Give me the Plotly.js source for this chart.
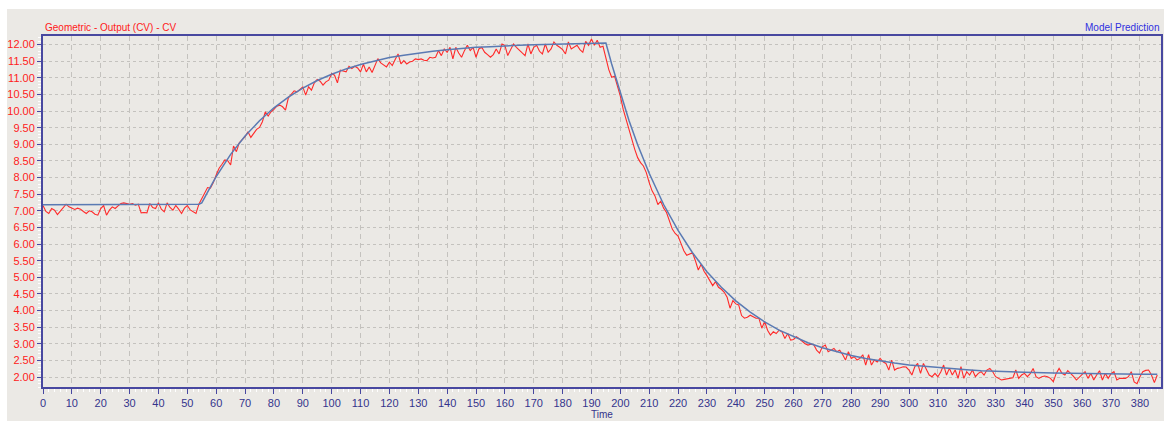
<!DOCTYPE html>
<html>
<head>
<meta charset="utf-8">
<script src="https://cdn.plot.ly/plotly-3.0.1.min.js"></script>
<style>
  html, body { margin: 0; padding: 0; background: #ffffff; width: 1164px; height: 421px; overflow: hidden; }
  #chart { position: absolute; left: 7px; top: 9px; width: 1157px; height: 412px; }
</style>
</head>
<body>
<div id="chart"></div>
<script>
// Measured output (CV), one sample per time unit starting at t = 0
const measuredStart = 0;
const measuredCV = [
  7.16, 6.98, 6.92, 7.07, 7.02, 6.89, 6.99, 7.10, 7.20, 7.12,
  7.09, 7.04, 7.08, 7.05, 6.98, 6.92, 7.00, 6.97, 6.90, 6.87,
  7.07, 7.16, 6.87, 7.02, 7.12, 7.07, 7.15, 7.22, 7.24, 7.21,
  7.20, 7.22, 7.17, 7.20, 6.94, 6.95, 6.94, 7.22, 7.10, 7.07,
  7.24, 7.05, 6.97, 7.24, 7.10, 7.02, 7.16, 7.05, 6.92, 7.08,
  7.16, 7.03, 6.97, 6.92, 7.20, 7.37, 7.55, 7.70, 7.68, 7.85,
  8.08, 8.28, 8.40, 8.53, 8.51, 8.38, 8.95, 8.78, 9.05, 9.13,
  9.23, 9.38, 9.21, 9.33, 9.45, 9.51, 9.68, 9.98, 9.85, 9.98,
  10.05, 10.15, 10.18, 10.13, 10.03, 10.40, 10.51, 10.61, 10.58, 10.65,
  10.73, 10.48, 10.73, 10.63, 10.85, 10.95, 10.90, 10.78, 10.88, 10.93,
  11.13, 11.08, 10.85, 11.23, 11.20, 11.18, 11.35, 11.28, 11.35, 11.30,
  11.18, 11.41, 11.18, 11.33, 11.16, 11.40, 11.58, 11.45, 11.38, 11.33,
  11.47, 11.37, 11.55, 11.72, 11.42, 11.52, 11.42, 11.48, 11.50, 11.57,
  11.55, 11.57, 11.53, 11.52, 11.62, 11.60, 11.62, 11.82, 11.67, 11.87,
  11.77, 11.92, 11.57, 11.92, 11.75, 11.62, 11.82, 11.98, 11.82, 11.92,
  11.62, 11.87, 11.92, 11.77, 11.70, 11.62, 11.70, 11.87, 11.72, 12.02,
  11.98, 11.67, 11.85, 12.02, 11.92, 11.82, 11.75, 11.67, 12.02, 11.72,
  11.92, 11.98, 11.80, 11.72, 12.02, 11.77, 11.87, 12.08, 11.98, 11.92,
  11.85, 11.72, 12.08, 11.87, 11.92, 11.98, 11.85, 11.77, 12.10, 11.98,
  12.17, 11.98, 12.13, 11.92, 11.95, 11.55, 11.25, 11.02, 11.05, 10.75,
  10.45, 10.05, 9.75, 9.45, 9.10, 8.85, 8.60, 8.45, 8.35, 8.15,
  7.85, 7.60, 7.45, 7.19, 7.29, 7.08, 6.95, 6.70, 6.45, 6.32,
  6.24, 6.02, 5.80, 5.66, 5.70, 5.74, 5.50, 5.22, 5.39, 5.18,
  5.05, 4.92, 4.75, 4.87, 4.70, 4.64, 4.55, 4.40, 4.07, 4.30,
  4.20, 4.17, 3.85, 3.77, 3.80, 3.86, 3.82, 3.77, 3.77, 3.47,
  3.67, 3.41, 3.26, 3.36, 3.31, 3.41, 3.36, 3.16, 3.31, 3.11,
  3.13, 3.21, 3.15, 3.06, 3.00, 2.96, 2.99, 2.97, 2.81, 2.72,
  2.91, 2.96, 2.76, 2.81, 2.86, 2.76, 2.81, 2.68, 2.51, 2.76,
  2.56, 2.61, 2.51, 2.56, 2.67, 2.36, 2.67, 2.36, 2.51, 2.45,
  2.56, 2.46, 2.41, 2.21, 2.51, 2.21, 2.26, 2.28, 2.31, 2.30,
  2.21, 2.06, 2.31, 2.41, 2.11, 2.41, 2.21, 2.06, 2.01, 2.11,
  2.01, 2.15, 2.36, 2.06, 2.26, 2.06, 2.21, 1.96, 2.31, 1.96,
  2.16, 2.06, 2.21, 2.01, 2.11, 2.16, 2.06, 2.21, 2.26, 2.16,
  2.01, 1.95, 1.91, 1.93, 1.95, 1.96, 1.98, 2.21, 1.96, 2.06,
  2.11, 2.01, 2.10, 2.26, 2.01, 1.96, 2.01, 2.03, 2.01, 1.96,
  1.86, 2.11, 2.26, 2.11, 2.06, 2.19, 2.11, 2.02, 1.91, 2.01,
  2.08, 2.16, 1.96, 2.11, 1.91, 2.06, 2.19, 1.91, 2.11, 1.96,
  2.10, 2.16, 1.91, 1.96, 1.97, 1.96, 2.01, 2.16, 1.85, 1.80,
  2.01, 2.16, 2.20, 2.21, 2.06, 1.83, 2.06
];
const measuredTime = measuredCV.map((_, i) => measuredStart + i);

// Model prediction (read at breakpoints)
const modelTime = [
  0, 53, 54, 55, 56, 57, 58, 59, 60, 62, 65, 70, 75, 80, 85, 90, 95, 100,
  105, 110, 115, 120, 125, 130, 135, 140, 145, 150, 155, 160, 165, 170, 175,
  180, 185, 190, 195, 197, 200, 203, 206, 210, 215, 220, 225, 230, 235, 240,
  245, 250, 255, 260, 265, 270, 275, 280, 285, 290, 295, 300, 305, 310, 315,
  320, 325, 330, 340, 350, 360, 370, 380, 386
];
const modelValue = [
  7.18, 7.18, 7.20, 7.24, 7.41, 7.58, 7.73, 7.88, 8.03, 8.31, 8.70, 9.25, 9.71, 10.10, 10.42, 10.69, 10.92, 11.11,
  11.27, 11.40, 11.51, 11.61, 11.68, 11.75, 11.80, 11.85, 11.89, 11.92, 11.94, 11.97, 11.98, 12.00, 12.01,
  12.02, 12.03, 12.04, 12.05, 11.42, 10.53, 9.72, 8.99, 8.13, 7.19, 6.41, 5.74, 5.17, 4.70, 4.29,
  3.95, 3.66, 3.41, 3.21, 3.03, 2.88, 2.76, 2.65, 2.56, 2.48, 2.42, 2.36, 2.32, 2.28, 2.24,
  2.22, 2.19, 2.17, 2.14, 2.12, 2.10, 2.09, 2.08, 2.08
];

const xTickVals = [0,10,20,30,40,50,60,70,80,90,100,110,120,130,140,150,160,170,180,190,200,210,220,230,240,250,260,270,280,290,300,310,320,330,340,350,360,370,380];
const yTickVals = [2,2.5,3,3.5,4,4.5,5,5.5,6,6.5,7,7.5,8,8.5,9,9.5,10,10.5,11,11.5,12];

const seriesName = "Geometric - Output (CV) - CV";
const modelName = "Model Prediction";
const xTitle = "Time";

const FONT = "'Liberation Sans Narrow', 'Arial Narrow', 'Liberation Sans', Arial, sans-serif";
const AXIS_BLUE = "#4848a0";

const traces = [
  {
    x: measuredTime, y: measuredCV, type: "scatter", mode: "lines", name: seriesName,
    line: { color: "#ff2a2a", width: 1.1 }, hoverinfo: "skip"
  },
  {
    x: modelTime, y: modelValue, type: "scatter", mode: "lines", name: modelName,
    line: { color: "#5a7ab3", width: 1.5 }, hoverinfo: "skip"
  }
];

const layout = {
  width: 1157, height: 412,
  margin: { l: 36, r: 3, t: 27, b: 34, pad: 0 },
  paper_bgcolor: "#ebe9e5",
  plot_bgcolor: "#ebe9e5",
  showlegend: false,
  font: { family: FONT, size: 11 },
  xaxis: {
    range: [0, 387.3],
    tickvals: xTickVals,
    ticktext: xTickVals.map(String),
    ticks: "outside", ticklen: 5, tickwidth: 1, tickcolor: AXIS_BLUE,
    tickfont: { family: FONT, size: 11, color: "#34348c" },
    showline: true, linecolor: AXIS_BLUE, linewidth: 2, mirror: true,
    showgrid: true, gridcolor: "#c4c2be", gridwidth: 1, griddash: "5px,4px",
    zeroline: false,
    minor: { dtick: 2, ticks: "outside", ticklen: 3, tickcolor: "#ffffff", showgrid: false },
    title: { text: xTitle, font: { family: FONT, size: 10, color: "#34348c" }, standoff: 3 }
  },
  yaxis: {
    range: [1.70, 12.26],
    tickvals: yTickVals,
    ticktext: yTickVals.map(v => v.toFixed(2)),
    ticks: "outside", ticklen: 4, tickwidth: 1, tickcolor: AXIS_BLUE,
    tickfont: { family: FONT, size: 11, color: "#ff2020" },
    showline: true, linecolor: AXIS_BLUE, linewidth: 2, mirror: true,
    showgrid: true, gridcolor: "#c4c2be", gridwidth: 1, griddash: "3px,3px",
    zeroline: false,
    minor: { dtick: 0.1, ticks: "outside", ticklen: 3, tickcolor: "#ffffff", showgrid: false }
  },
  annotations: [
    {
      text: seriesName, xref: "paper", yref: "paper", x: 0, y: 1,
      xanchor: "left", yanchor: "bottom", yshift: 1, showarrow: false,
      font: { family: FONT, size: 10, color: "#ff2020" }
    },
    {
      text: modelName, xref: "paper", yref: "paper", x: 1, y: 1,
      xanchor: "right", yanchor: "bottom", yshift: 1, showarrow: false,
      font: { family: FONT, size: 10, color: "#3030e0" }
    }
  ]
};

Plotly.newPlot("chart", traces, layout, { staticPlot: true, displayModeBar: false });
</script>
</body>
</html>
